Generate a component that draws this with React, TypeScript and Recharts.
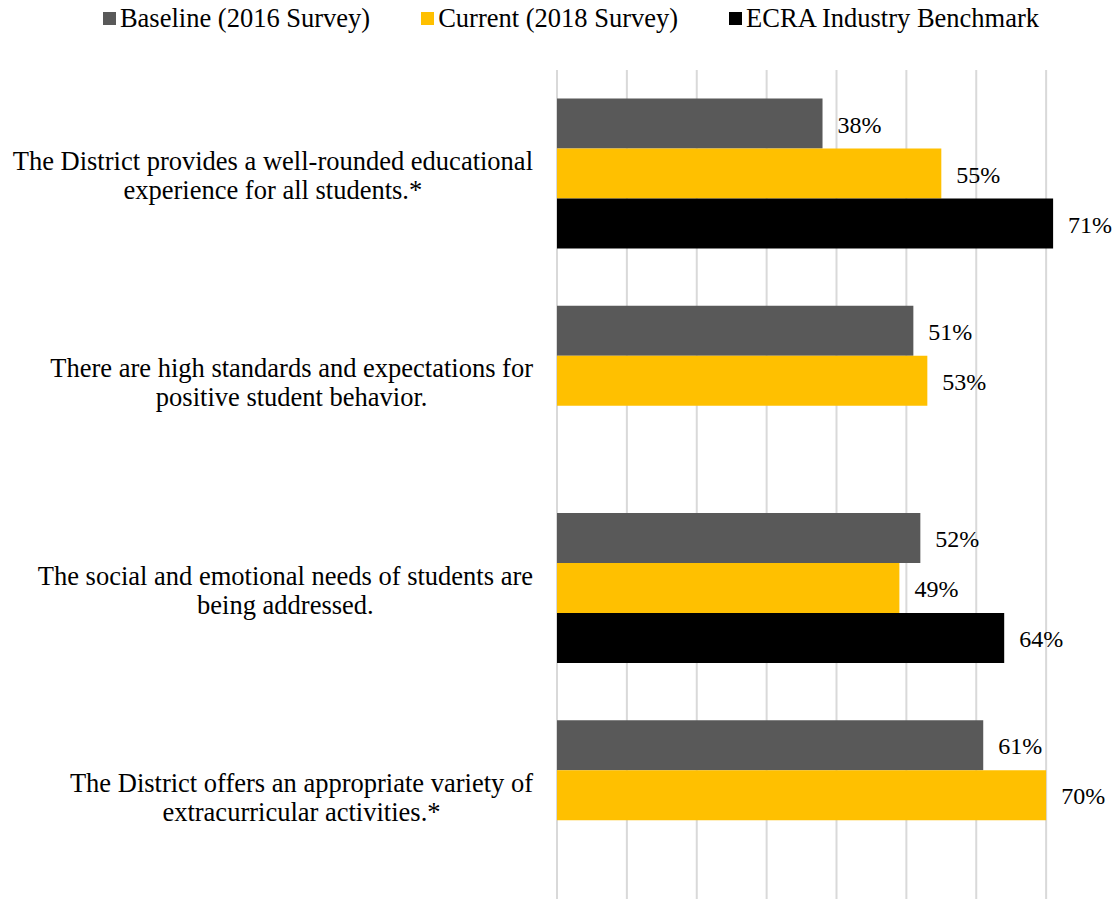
import { BarChart, Bar, XAxis, YAxis, CartesianGrid, Legend, LabelList } from "recharts";

// Survey items, top to bottom (line breaks as in the original labels)
const categories = [
  "The District provides a well-rounded educational\nexperience for all students.*",
  "There are high standards and expectations for\npositive student behavior.",
  "The social and emotional needs of students are\nbeing addressed.",
  "The District offers an appropriate variety of\nextracurricular activities.*",
];
const baseline = [38, 51, 52, 61];
const current = [55, 53, 49, 70];
const benchmark: (number | null)[] = [71, null, 64, null];
const xTicks = [0, 10, 20, 30, 40, 50, 60, 70];
const X_MAX = 80;

const SERIES = [
  { key: "baseline", name: "Baseline (2016 Survey)", color: "#595959" },
  { key: "current", name: "Current (2018 Survey)", color: "#FFC000" },
  { key: "benchmark", name: "ECRA Industry Benchmark", color: "#000000" },
];

const FONT = '"Liberation Serif", "Times New Roman", serif';
const LABEL_SIZE = 26.5;

const data = categories.map((c, i) => ({
  category: c,
  baseline: baseline[i],
  current: current[i],
  benchmark: benchmark[i],
}));

let ctx: CanvasRenderingContext2D | null = null;
function textWidth(s: string, size: number) {
  if (!ctx) ctx = document.createElement("canvas").getContext("2d");
  if (!ctx) return s.length * size * 0.45;
  ctx.font = `${size}px "Liberation Serif"`;
  return ctx.measureText(s).width;
}

// wrapped label: block right-aligned to the axis, lines centred inside it
function CategoryTick({ x, y, payload }: any) {
  const lines = String(payload.value).split("\n");
  const w = Math.max(...lines.map((l) => textWidth(l, LABEL_SIZE)));
  const cx = x - 24 - w / 2;
  const lh = 29;
  const top = y + 2 - ((lines.length - 1) * lh) / 2;
  return (
    <text
      x={cx}
      textAnchor="middle"
      dominantBaseline="central"
      fontSize={LABEL_SIZE}
      fontFamily={FONT}
      fill="#000"
    >
      {lines.map((l, i) => (
        <tspan key={i} x={cx} y={top + i * lh}>
          {l}
        </tspan>
      ))}
    </text>
  );
}

function ValueLabel({ x, y, width, height, value }: any) {
  if (value == null) return null;
  return (
    <text
      className="value-label"
      x={x + width + 15}
      y={y + height / 2 + 1}
      dominantBaseline="central"
      fill="#000"
      style={{ fontFamily: FONT, fontSize: 24 }}
    >
      {`${value}%`}
    </text>
  );
}

function LegendContent() {
  return (
    <div
      style={{
        height: 70,
        boxSizing: "border-box",
        paddingLeft: 26,
        display: "flex",
        justifyContent: "center",
        alignItems: "flex-start",
        columnGap: 51,
        fontFamily: FONT,
        fontSize: LABEL_SIZE,
        color: "#000",
      }}
    >
      {SERIES.map((s) => (
        <div key={s.key} style={{ display: "flex", alignItems: "center", height: 37, lineHeight: 1 }}>
          <span style={{ display: "inline-block", width: 13, height: 13, background: s.color, marginRight: 4 }} />
          <span>{s.name}</span>
        </div>
      ))}
    </div>
  );
}

// vertical gridlines at the x ticks, using the axis scale when available
function gridX({ xAxis, offset }: any) {
  const s = xAxis?.scale;
  if (typeof s === "function") return xTicks.map((t) => s(t));
  if (s && typeof s.map === "function") return xTicks.map((t) => s.map(t));
  return xTicks.map((t) => offset.left + (t / X_MAX) * offset.width);
}

const CSS = `body{margin:0;overflow:hidden}
.value-label, .recharts-label-list text { font-family: "Liberation Serif", "Times New Roman", serif !important; font-size: 24px !important; }`;

export default function App() {
  return (
    <div>
      <style>{CSS}</style>
      <BarChart
        width={1116}
        height={899}
        data={data}
        layout="vertical"
        margin={{ top: 0, right: 0, bottom: 0, left: 0 }}
        barCategoryGap="13.8%"
        barGap={0}
      >
        <CartesianGrid
          horizontal={false}
          stroke="#d9d9d9"
          strokeWidth={2}
          verticalCoordinatesGenerator={gridX}
        />
        <XAxis type="number" domain={[0, X_MAX]} ticks={xTicks} hide />
        <YAxis
          type="category"
          dataKey="category"
          width={557}
          axisLine={false}
          tickLine={false}
          tickSize={0}
          tickMargin={0}
          interval={0}
          tick={<CategoryTick />}
        />
        <Legend
          verticalAlign="top"
          content={<LegendContent />}
          wrapperStyle={{ top: 0, left: 0, width: 1116 }}
        />
        {SERIES.map((s) => (
          <Bar key={s.key} dataKey={s.key} name={s.name} fill={s.color} isAnimationActive={false}>
            <LabelList dataKey={s.key} content={<ValueLabel />} />
          </Bar>
        ))}
      </BarChart>
    </div>
  );
}
